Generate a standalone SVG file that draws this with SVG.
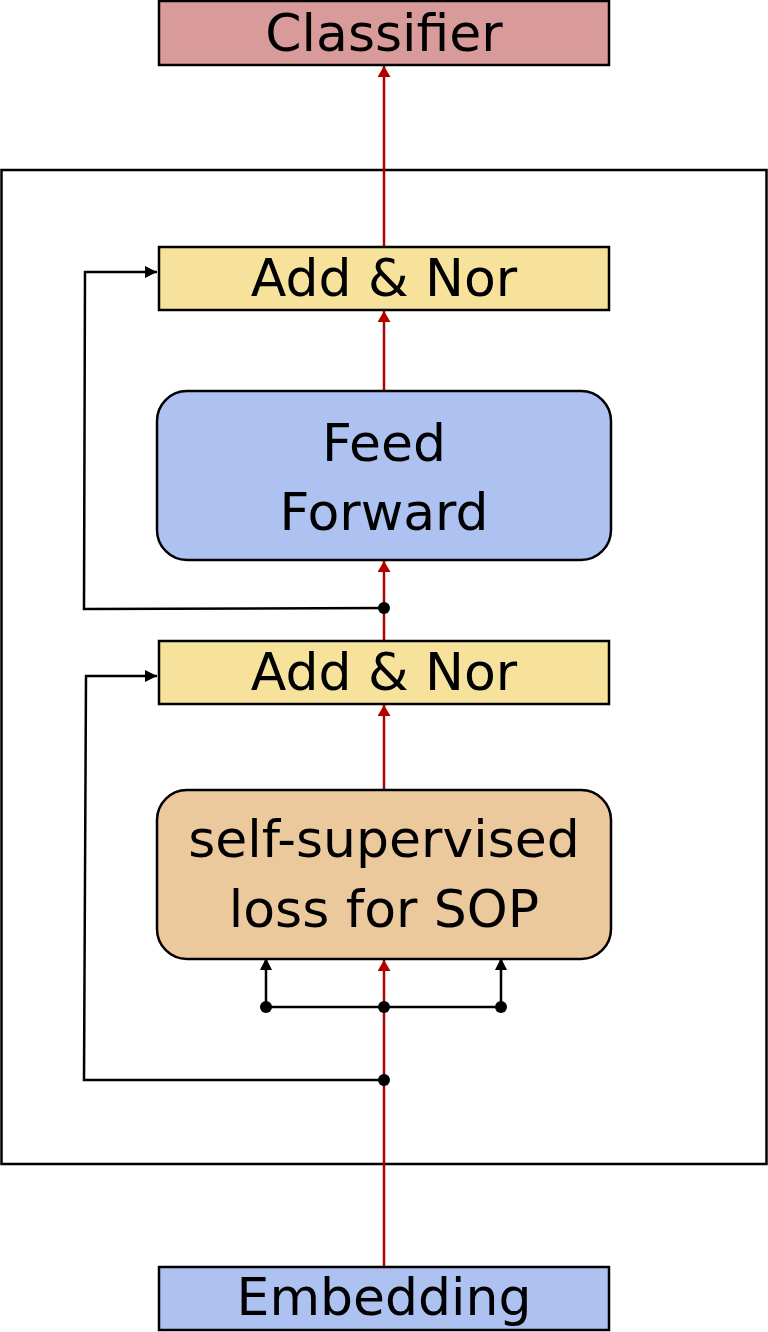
<svg xmlns="http://www.w3.org/2000/svg" width="768" height="1332" viewBox="0 0 768 1332">
<defs>
<marker id="ar" viewBox="0 0 10 10" refX="10" refY="5" markerWidth="11" markerHeight="13" markerUnits="userSpaceOnUse" orient="auto" preserveAspectRatio="none"><path d="M0,0 L10,5 L0,10 z" fill="#b00000"/></marker>
<marker id="ab" viewBox="0 0 10 10" refX="10" refY="5" markerWidth="12" markerHeight="12" markerUnits="userSpaceOnUse" orient="auto" preserveAspectRatio="none"><path d="M0,0 L10,5 L0,10 z" fill="#000"/></marker>
</defs>
<style>
.box{stroke:#000;stroke-width:2.5}
.t{font-family:"DejaVu Sans",sans-serif;font-size:52px;fill:#000;text-anchor:middle}
.red{stroke:#b00000;stroke-width:2.5;fill:none}
.blk{stroke:#000;stroke-width:2.5;fill:none}
</style>
<rect id="container" x="1.5" y="170" width="765" height="994" fill="#fff" stroke="#000" stroke-width="2.5"/>
<g id="connectors">
<line class="red" x1="384" y1="1267" x2="384" y2="960" marker-end="url(#ar)"/>
<line class="red" x1="384" y1="790" x2="384" y2="705" marker-end="url(#ar)"/>
<line class="red" x1="384" y1="641" x2="384" y2="561" marker-end="url(#ar)"/>
<line class="red" x1="384" y1="391" x2="384" y2="311" marker-end="url(#ar)"/>
<line class="red" x1="384" y1="247" x2="384" y2="66" marker-end="url(#ar)"/>
<polyline class="blk" points="384,608 84,609 85,272 157,272" marker-end="url(#ab)"/>
<polyline class="blk" points="384,1080 84,1080 86,676 157,676" marker-end="url(#ab)"/>
<line class="blk" x1="266" y1="1007" x2="501" y2="1007"/>
<line class="blk" x1="266" y1="1007" x2="266" y2="958" marker-end="url(#ab)"/>
<line class="blk" x1="501" y1="1007" x2="501" y2="958" marker-end="url(#ab)"/>
<circle cx="384" cy="608" r="6" fill="#000"/>
<circle cx="384" cy="1080" r="6" fill="#000"/>
<circle cx="266" cy="1007" r="6" fill="#000"/>
<circle cx="384" cy="1007" r="6" fill="#000"/>
<circle cx="501" cy="1007" r="6" fill="#000"/>
</g>
<g id="classifier">
<rect class="box" x="159" y="1" width="450" height="64" fill="#d99a9a"/>
<text class="t" x="384" y="51">Classifier</text>
</g>
<g id="addnorm2">
<rect class="box" x="159" y="247" width="450" height="63" fill="#f7e29c"/>
<text class="t" x="384" y="296">Add &amp; Nor</text>
</g>
<g id="feedforward">
<rect class="box" x="157" y="391" width="454" height="169" rx="30" fill="#aec2f2"/>
<text class="t" x="384" y="461">Feed</text>
<text class="t" x="384" y="530">Forward</text>
</g>
<g id="addnorm1">
<rect class="box" x="159" y="641" width="450" height="63" fill="#f7e29c"/>
<text class="t" x="384" y="690">Add &amp; Nor</text>
</g>
<g id="sop">
<rect class="box" x="157" y="790" width="454" height="169" rx="30" fill="#ecc99c"/>
<text class="t" x="384" y="857">self-supervised</text>
<text class="t" x="384" y="927">loss for SOP</text>
</g>
<g id="embedding">
<rect class="box" x="159" y="1267" width="450" height="63" fill="#aec2f2"/>
<text class="t" x="384" y="1315">Embedding</text>
</g>
</svg>
